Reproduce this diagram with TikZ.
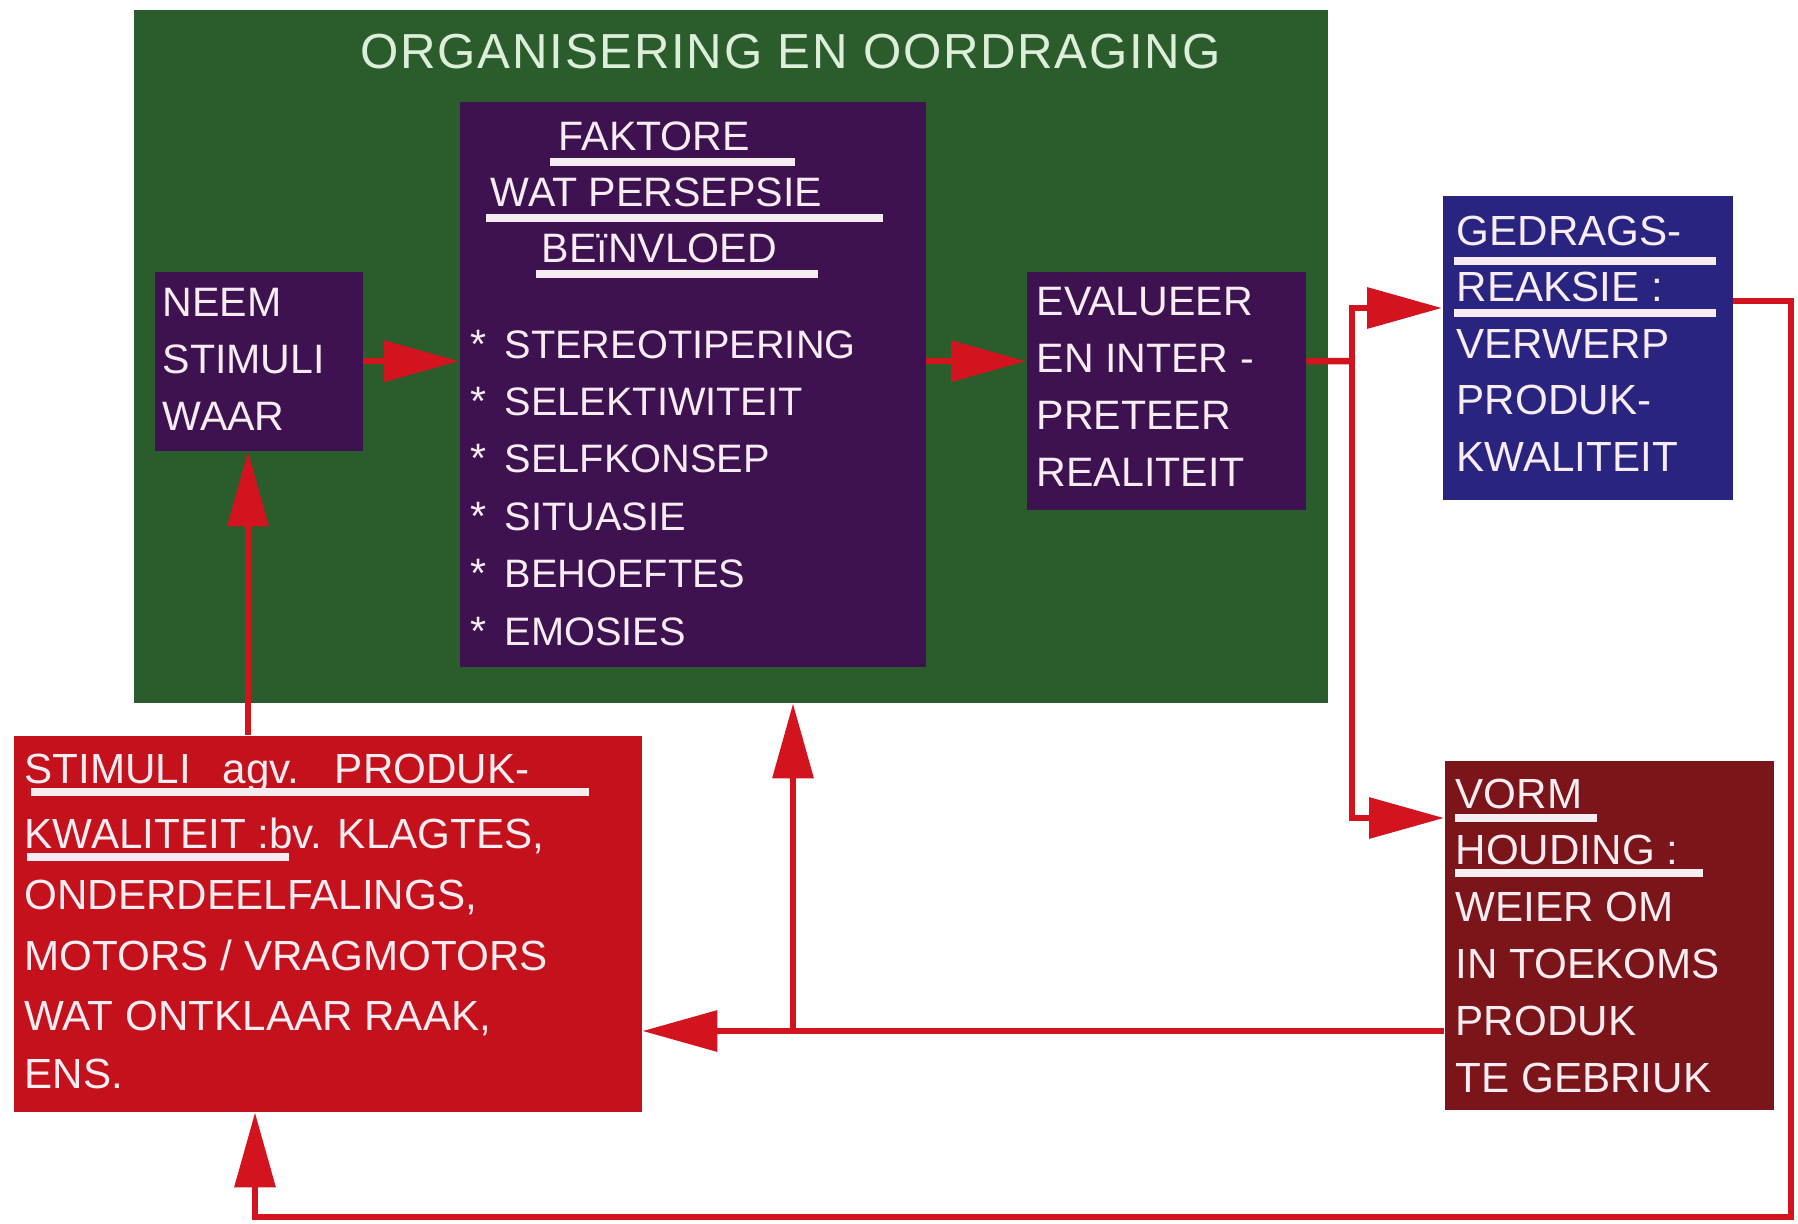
\documentclass[tikz,border=0pt]{standalone}
\usepackage{fontspec}
\setmainfont{Liberation Sans}
\usepackage{xcolor}
\usepackage{tikz}
\usetikzlibrary{calc,arrows.meta}
\definecolor{orggreen}{HTML}{2B5C2B}
\definecolor{plum}{HTML}{3E1150}
\definecolor{gedragblue}{HTML}{28247F}
\definecolor{stimred}{HTML}{C4111C}
\definecolor{vormred}{HTML}{7C1519}
\definecolor{pijl}{HTML}{D3141F}
\definecolor{txt}{HTML}{F7ECF1}
\definecolor{titletxt}{HTML}{DDEEDA}
\tikzset{
  box/.style={rectangle, inner sep=0pt, anchor=north west},
  line/.style={anchor=base west, text=txt, inner sep=0pt, font=\fontsize{11.7}{14}\selectfont},
  bigline/.style={line, font=\fontsize{12}{14}\selectfont},
  uline/.style={draw=txt, line width=0.8mm},
  wire/.style={draw=pijl, line width=0.65mm},
  arrow/.style={wire, -{Triangle[length=7.5mm,width=4mm]}},
}

\begin{document}
\begin{tikzpicture}[x=0.1mm, y=-0.1mm]
  \useasboundingbox (0,0) rectangle (1798,1223);

  % boxes
  \node[box, fill=orggreen, minimum width=119.4mm, minimum height=69.3mm] (org) at (133,9) {};
  \node[box, fill=plum, minimum width=20.8mm, minimum height=17.9mm] (neem) at (154,271) {};
  \node[box, fill=plum, minimum width=46.6mm, minimum height=56.5mm] (faktore) at (459,101) {};
  \node[box, fill=plum, minimum width=27.9mm, minimum height=23.8mm] (eval) at (1026,271) {};
  \node[box, fill=gedragblue, minimum width=29.0mm, minimum height=30.4mm] (gedrag) at (1442,195) {};
  \node[box, fill=stimred, minimum width=62.8mm, minimum height=37.6mm] (stimuli) at (13,735) {};
  \node[box, fill=vormred, minimum width=32.9mm, minimum height=34.9mm] (vorm) at (1444,760) {};

  \coordinate (j) at (1352,361);
  \coordinate (k) at (793,1031);
  \coordinate (rc) at (1791,1217);

  % connectors
  \draw[arrow] (neem.east) -- (neem.east -| faktore.west);
  \draw[arrow] (faktore.east |- neem.east) -- (eval.west |- neem.east);
  \draw[wire] (eval.east |- neem.east) -- (j);
  \draw[arrow] (j) |- (gedrag.west |- 0,308);
  \draw[arrow] (j) |- (vorm.west |- 0,818);
  \draw[arrow] (gedrag.east |- 0,301) -| (rc) -| (stimuli.south -| 255,0);
  \draw[arrow] (vorm.west |- k) -- (stimuli.east |- k);
  \draw[arrow] (k) -- (k |- org.south);
  \draw[arrow] (stimuli.north -| 248,0) -- (neem.south -| 248,0);

  % texts
  \node[line, text=titletxt, font=\fontsize{14}{16}\selectfont\addfontfeatures{LetterSpace=3.5}] (title) at (360,69) {ORGANISERING EN OORDRAGING};

  \foreach \t [count=\i from 0] in {NEEM, STIMULI, WAAR}
    \node[line] (neem\i) at (162,{316+57*\i}) {\t};

  \node[line] (fk1) at (558,150) {FAKTORE};
  \node[line] (fk2) at (490,206) {WAT PERSEPSIE};
  \node[line] (fk3) at (541,262) {BEïNVLOED};
  \draw[uline] (550,162) -- (795,162);
  \draw[uline] (486,218) -- (883,218);
  \draw[uline] (536,274) -- (818,274);
  \foreach \t [count=\i from 0] in {STEREOTIPERING, SELEKTIWITEIT, SELFKONSEP, SITUASIE, BEHOEFTES, EMOSIES} {
    \node[line] (ster\i) at (470,{358+57.4*\i}) {*};
    \node[line, font=\fontsize{11.3}{14}\selectfont] (fak\i) at (504,{358+57.4*\i}) {\t};
  }

  \foreach \t [count=\i from 0] in {EVALUEER, EN INTER -, PRETEER, REALITEIT}
    \node[line] (eval\i) at (1036,{315+57*\i}) {\t};

  \foreach \t [count=\i from 0] in {GEDRAGS-, REAKSIE :, VERWERP, PRODUK-, KWALITEIT}
    \node[bigline] (ged\i) at (1456,{245+56.5*\i}) {\t};
  \draw[uline] (1454,261) -- (1716,261);
  \draw[uline] (1454,313) -- (1716,313);

  \node[bigline] (stim0) at (24,783) {STIMULI \hspace{2mm}agv. \hspace{2mm}PRODUK-};
  \node[bigline] (stim1) at (24,848) {KWALITEIT :bv. KLAGTES,};
  \node[bigline] (stim2) at (24,909) {ONDERDEELFALINGS,};
  \node[bigline] (stim3) at (24,970) {MOTORS / VRAGMOTORS};
  \node[bigline] (stim4) at (24,1030) {WAT ONTKLAAR RAAK,};
  \node[bigline] (stim5) at (24,1088) {ENS.};
  \draw[uline] (31,792) -- (589,792);
  \draw[uline] (27,857) -- (289,857);

  \foreach \t [count=\i from 0] in {VORM, HOUDING :, WEIER OM, IN TOEKOMS, PRODUK, TE GEBRIUK}
    \node[bigline] (vorm\i) at (1455,{808+56.8*\i}) {\t};
  \draw[uline] (1455,818) -- (1597,818);
  \draw[uline] (1455,873) -- (1703,873);
\end{tikzpicture}
\end{document}
